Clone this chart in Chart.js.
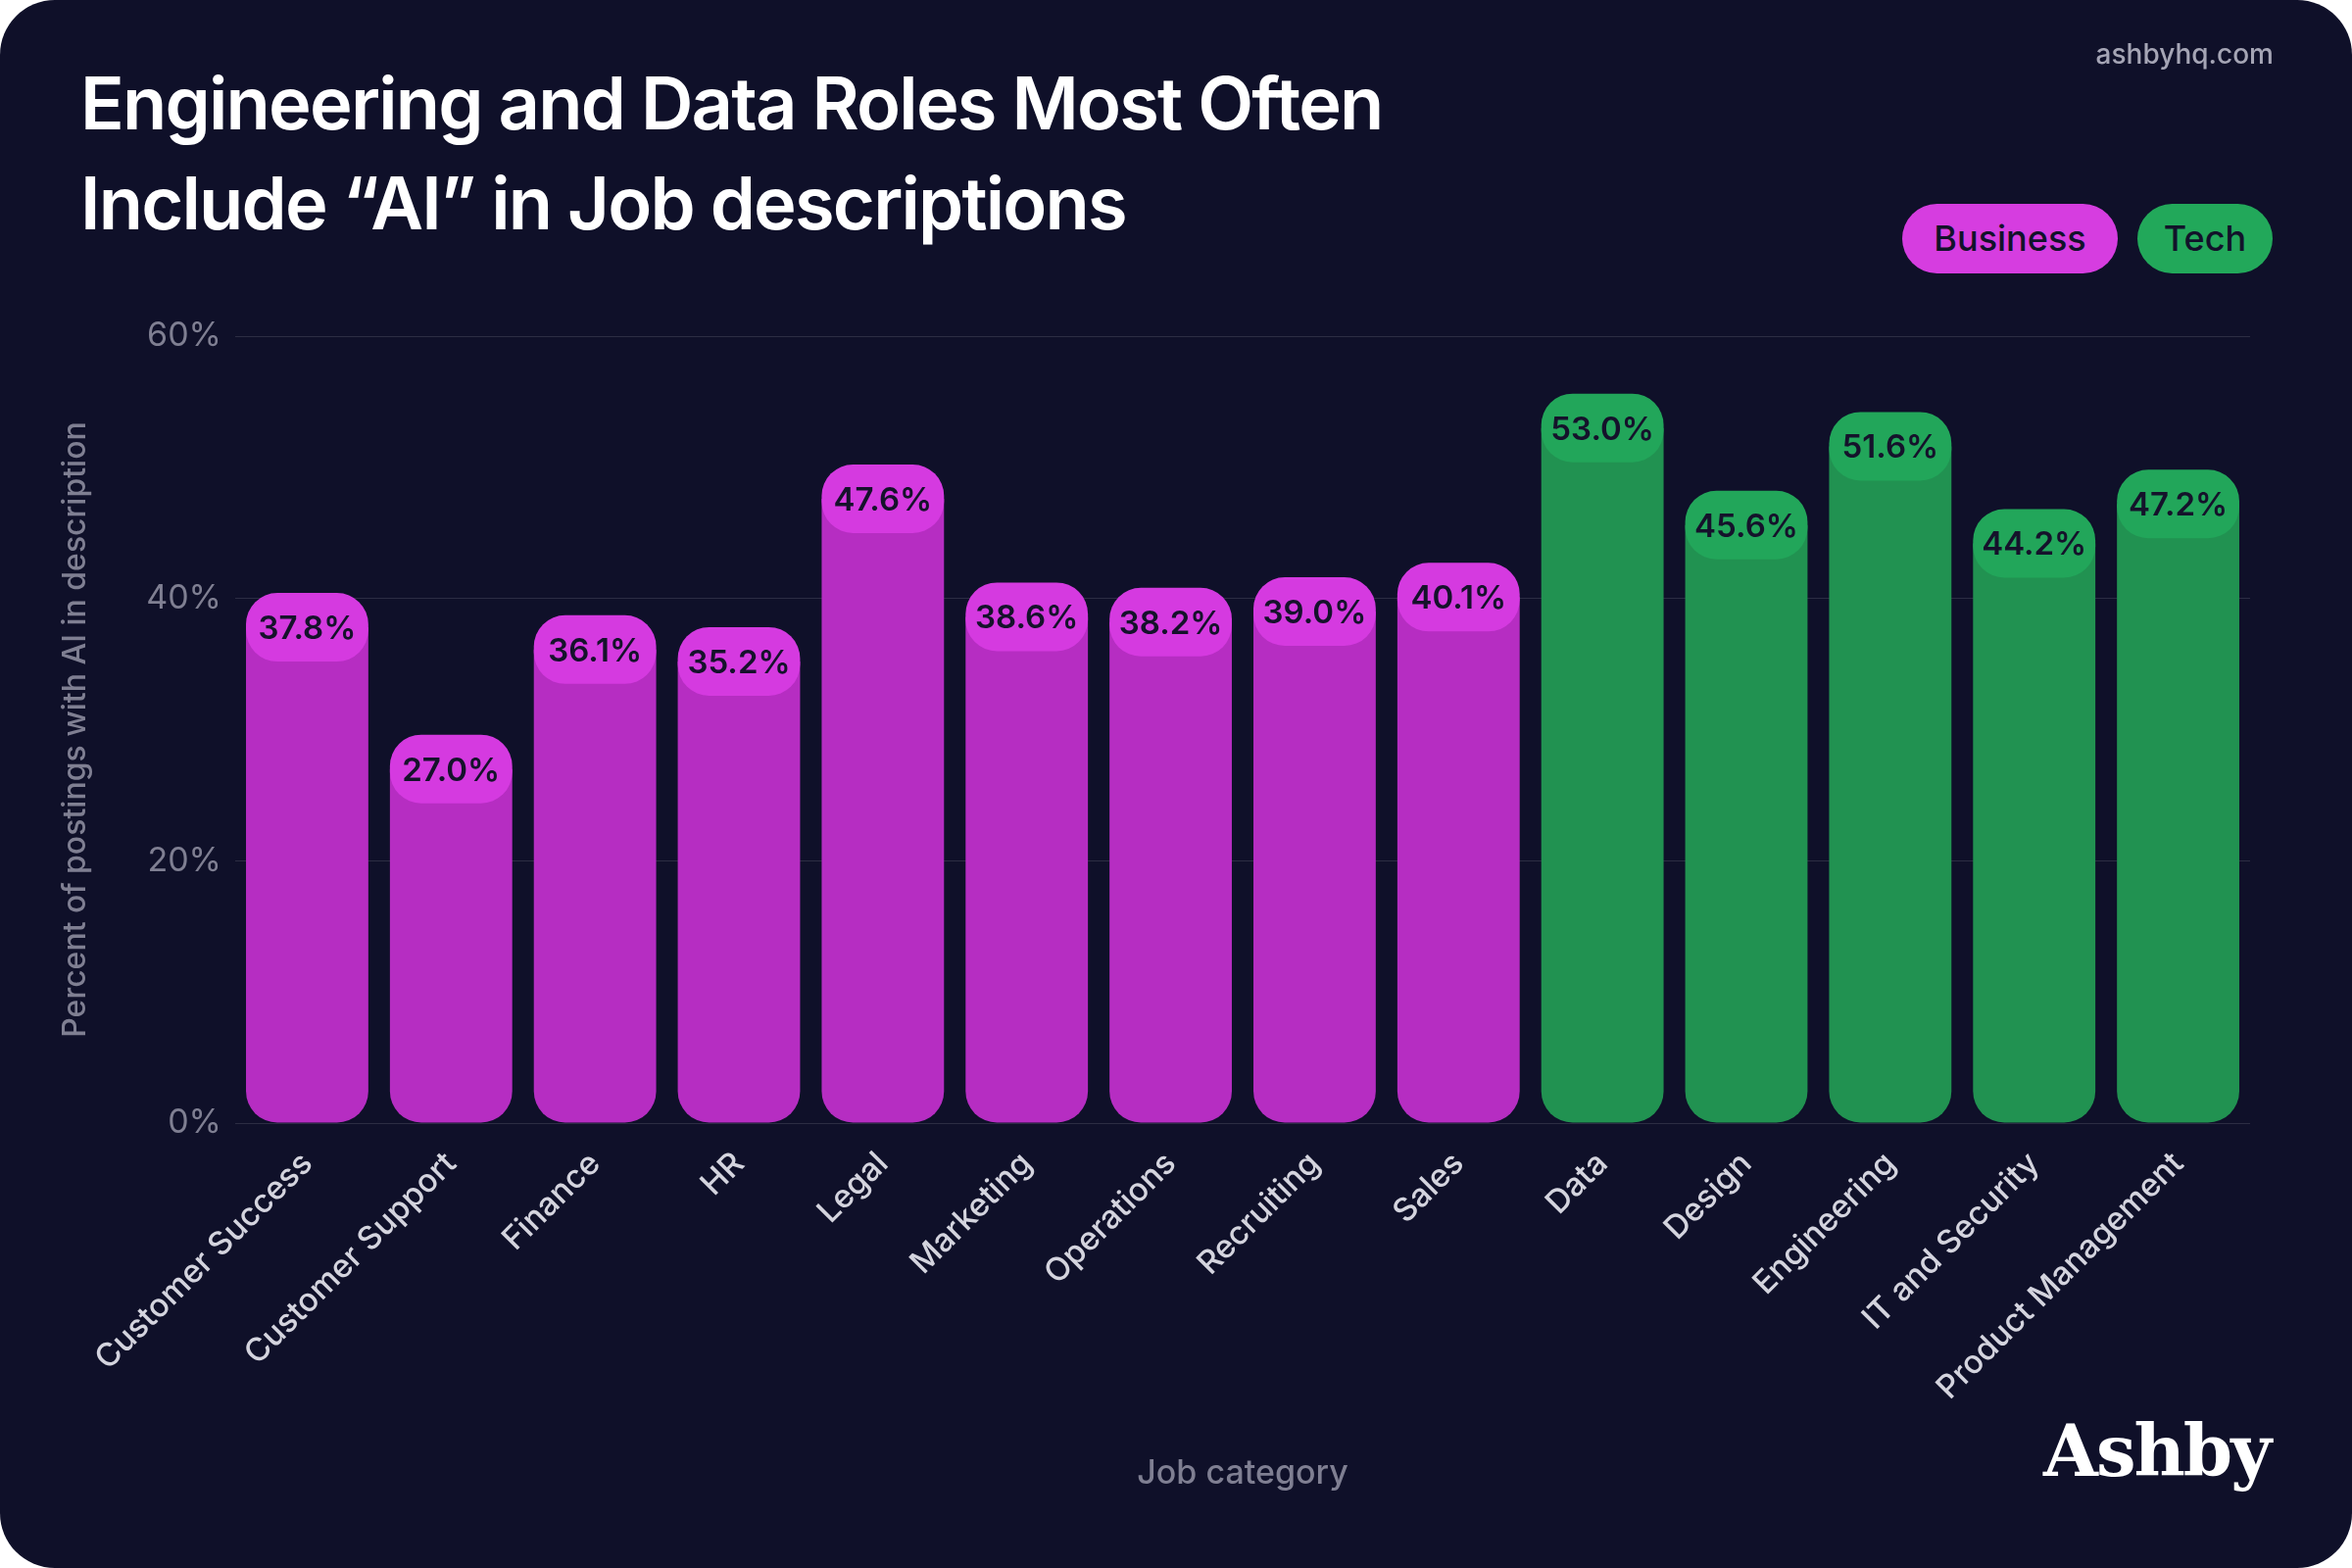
<!DOCTYPE html>
<html>
<head>
<meta charset="utf-8">
<script src="https://cdn.jsdelivr.net/npm/chart.js@4/dist/chart.umd.min.js"></script>
<style>
  html, body { margin: 0; padding: 0; background: #ffffff; }
  #card { position: absolute; left: 0; top: 0; width: 2400px; height: 1600px; background: #0f1029; border-radius: 56px; overflow: hidden; font-family: Inter, "Noto Sans", sans-serif; }
  #wrap { position: absolute; left: 0; top: 0; width: 2400px; height: 1600px; }
  .title { position: absolute; left: 82px; top: 54px; color: #ffffff; font-size: 74px; font-weight: 600; line-height: 102px; letter-spacing: -1.8px; }
  .site { position: absolute; right: 80px; top: 38px; color: #a5a5b5; font-size: 28px; font-weight: 500; }
  .pill { position: absolute; top: 208px; height: 71px; line-height: 71px; border-radius: 36px; color: #12122a; font-size: 36px; font-weight: 500; text-align: center; }
  .logo { position: absolute; right: 84px; top: 1438px; color: #ffffff; font-family: "DejaVu Serif", "Liberation Serif", serif; font-weight: bold; font-size: 72px; letter-spacing: -2px; }
</style>
</head>
<body>
<div id="card">
  <div id="wrap"><canvas id="chart" width="2400" height="1600"></canvas></div>
  <div class="title">Engineering and Data Roles Most Often<br>Include “AI” in Job descriptions</div>
  <div class="site">ashbyhq.com</div>
  <div class="pill" style="left:1941px;width:220px;background:#d63de0;">Business</div>
  <div class="pill" style="left:2181px;width:138px;background:#22a85a;">Tech</div>
  <div class="logo">Ashby</div>
</div>
<script>
const CATEGORIES = ['Customer Success', 'Customer Support', 'Finance', 'HR', 'Legal', 'Marketing', 'Operations', 'Recruiting', 'Sales', 'Data', 'Design', 'Engineering', 'IT and Security', 'Product Management'];
const VALUES = [37.8, 27.0, 36.1, 35.2, 47.6, 38.6, 38.2, 39.0, 40.1, 53.0, 45.6, 51.6, 44.2, 47.2];
const GROUPS = ['Business', 'Business', 'Business', 'Business', 'Business', 'Business', 'Business', 'Business', 'Business', 'Tech', 'Tech', 'Tech', 'Tech', 'Tech'];
const Y_TICKS = [0, 20, 40, 60];

const BAR_COLOR = { Business: '#b62dc2', Tech: '#219251' };
const PILL_COLOR = { Business: '#d53ae0', Tech: '#22a65a' };

// draws the value pill centred on each bar's value
const valuePills = {
  id: 'valuePills',
  afterDatasetsDraw(chart) {
    const ctx = chart.ctx;
    chart.getDatasetMeta(0).data.forEach((bar, i) => {
      const w = bar.width, h = 70, x = bar.x - w / 2, y = bar.y - h / 2;
      ctx.save();
      ctx.fillStyle = PILL_COLOR[GROUPS[i]];
      ctx.beginPath();
      ctx.roundRect(x, y, w, h, 32);
      ctx.fill();
      ctx.fillStyle = '#15122b';
      ctx.font = '600 33px Inter, "Noto Sans", sans-serif';
      ctx.textAlign = 'center';
      ctx.textBaseline = 'middle';
      ctx.fillText(VALUES[i].toFixed(1) + '%', bar.x, bar.y + 2);
      ctx.restore();
    });
  }
};

new Chart(document.getElementById('chart'), {
  type: 'bar',
  data: {
    labels: CATEGORIES,
    datasets: [{
      data: VALUES,
      backgroundColor: GROUPS.map(g => BAR_COLOR[g]),
      borderRadius: { topLeft: 0, topRight: 0, bottomLeft: 32, bottomRight: 32 },
      borderSkipped: false,
      barPercentage: 0.85,
      categoryPercentage: 1,
    }],
  },
  options: {
    responsive: false,
    animation: false,
    layout: { padding: { top: 343, left: 58, right: 104, bottom: 76 } },
    plugins: { legend: { display: false }, tooltip: { enabled: false } },
    scales: {
      y: {
        min: 0, max: 60,
        afterBuildTicks: s => { s.ticks = Y_TICKS.map(v => ({ value: v })); },
        afterFit: s => { s.width = 182; },
        ticks: { color: '#7f7f92', font: { size: 34, family: 'Inter' }, padding: 14, callback: v => v + '%' },
        grid: { color: 'rgba(255,255,255,0.12)', drawTicks: false },
        border: { display: false },
        title: { display: true, text: 'Percent of postings with AI in description', color: '#7f7f92', font: { size: 32, family: 'Inter', weight: 500 }, padding: 0 },
      },
      x: {
        afterFit: s => { s.height = 378; },
        ticks: { color: '#d4d4de', font: { size: 33, family: 'Inter', weight: 500 }, minRotation: 45, maxRotation: 45, padding: 14 },
        grid: { display: false },
        border: { display: false },
        title: { display: true, text: 'Job category', color: '#7f7f92', font: { size: 34, family: 'Inter', weight: 500 }, padding: { top: 0, bottom: 0 } },
      },
    },
  },
  plugins: [valuePills],
});
</script>
</body>
</html>
